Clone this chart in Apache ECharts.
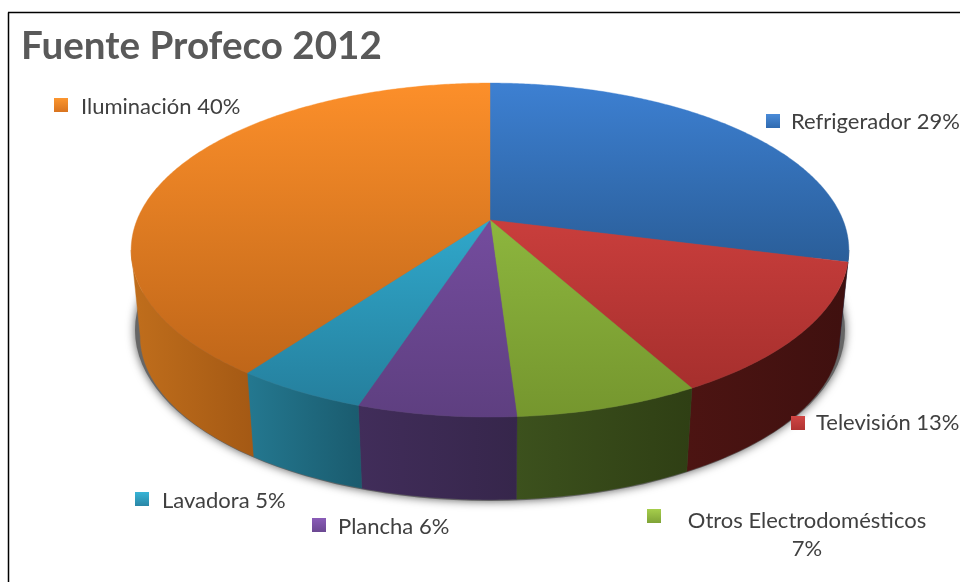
<!DOCTYPE html>
<html><head><meta charset="utf-8">
<style>html,body{margin:0;padding:0;background:#fff}#c{width:960px;height:582px}</style>
<script src="https://cdn.jsdelivr.net/npm/echarts@6/dist/echarts.min.js"></script>
</head><body><div id="c"></div>
<script>
const titleText = 'Fuente Profeco 2012';
const categories = ['Refrigerador', 'Televisión', 'Otros Electrodomésticos', 'Plancha', 'Lavadora', 'Iluminación'];
const shares = [29, 13, 7, 6, 5, 40];

// styles and layout, per category
const topColors = [['#3D80D2','#2A5E99'],['#C93E3C','#A62F2D'],['#8DB63E','#75962E'],['#744C9E','#5E3F80'],['#30A8CB','#257F9D'],['#FC8F2A','#BF6619']];
const wallColors = [['#24507F','#1E4268'],['#4C1412','#3F100F'],['#3C511D','#2F3F14'],['#412D5A','#36264B'],['#247890','#1A5B6E'],['#C06E1C','#A45914']];
const swatchColors = [['#4A8BD8','#2F6AB0'],['#D04644','#B03432'],['#A6CE4C','#7FA337'],['#8A5CB8','#6B4892'],['#38B4D6','#2A86A6'],['#FC962F','#D9741F']];
const legendPos = [
  {sx:766,sy:114,tx:791,ty:122},
  {sx:791,sy:416,tx:816,ty:423},
  {sx:647,sy:509,tx:807,ty:535,center:true},
  {sx:312,sy:518,tx:338,ty:527},
  {sx:135,sy:492,tx:162,ty:501},
  {sx:54,sy:98,tx:81,ty:107}
];

// tilted-disc projection: perspective k, top rim and lower rim
const K = 0.18;
const rimTop = {cx:490, cy:220, a:353, b:161.6};
const rimLow = {cx:490, cy:307, a:344, b:158};
const project = (rim, t) => {
  const X = Math.sin(t), Y = -Math.cos(t), d = 1 - K * Y;
  return [rim.cx + rim.a * X / d, rim.cy + rim.b * Y / d];
};
const silhouette = Math.acos(-K); // angle at which the rim turns behind
const total = shares.reduce((s, v) => s + v, 0);
const toAngle = c => echarts.number.linearMap(c, [0, total], [0, Math.PI * 2]);
const cumulative = shares.map((_, i) => shares.slice(0, i).reduce((s, v) => s + v, 0));
const arc = (rim, from, to) => {
  const n = Math.max(2, Math.ceil(Math.abs(to - from) / 0.01)), pts = [];
  for (let i = 0; i <= n; i++) pts.push(project(rim, from + (to - from) * i / n));
  return pts;
};
const grad = (x, y, x2, y2, c) => ({type:'linear', x, y, x2, y2, global:true,
  colorStops:[{offset:0,color:c[0]},{offset:1,color:c[1]}]});

function renderItem(params, api) {
  const i = params.dataIndex, children = [];
  const t0 = toAngle(api.value(1)), t1 = toAngle(api.value(1) + api.value(0));
  const topPts = [[rimTop.cx, rimTop.cy]].concat(arc(rimTop, t0, t1));
  const ys = topPts.map(p => p[1]);
  const topFill = grad(0, Math.min(...ys), 0, Math.max(...ys), topColors[i]);
  children.push({type:'polygon', z2:3, shape:{points:topPts}, style:{fill:topFill, stroke:topFill, lineWidth:0.4}});
  const a = Math.max(t0, silhouette), b = Math.min(t1, Math.PI * 2 - silhouette);
  if (b > a) {
    const u = arc(rimTop, a, b), l = arc(rimLow, b, a);
    const pts = u.concat(l), xs = pts.map(p => p[0]);
    const wf = grad(Math.min(...xs), 0, Math.max(...xs), 0, wallColors[i]);
    children.push({type:'polygon', z2:2, shape:{points:pts}, style:{fill:wf, stroke:wf, lineWidth:0.4}});
  }
  const lp = legendPos[i];
  children.push({type:'rect', z2:4, shape:{x:lp.sx, y:lp.sy, width:14, height:14},
    style:{fill:grad(0, lp.sy, 0, lp.sy + 14, swatchColors[i])}});
  children.push({type:'text', z2:4, style:{
    x:lp.tx, y:lp.ty, text: categories[i] + (lp.center ? '\n' : ' ') + api.value(0) + '%',
    fill:'#404040', font:'22px Lato', lineHeight:28,
    align: lp.center ? 'center' : 'left', verticalAlign:'middle'}});
  return {type:'group', children};
}

const chart = echarts.init(document.getElementById('c'), null, {renderer:'canvas'});
chart.setOption({
  animation:false,
  backgroundColor:'#fff',
  title:{text:titleText, left:16, top:22, textStyle:{fontFamily:'Lato', fontWeight:'bold', fontSize:38.6, color:'#595959'}},
  graphic:[
    {type:'line', z:-2, shape:{x1:8.5,y1:12.5,x2:8.5,y2:582}, style:{stroke:'#000',lineWidth:1.5}},
    {type:'line', z:-2, shape:{x1:8,y1:12.5,x2:960,y2:12.5}, style:{stroke:'#000',lineWidth:1.5}},
    {type:'ellipse', z:-1, shape:{cx:490,cy:330,rx:355,ry:171},
      style:{fill:'#666', shadowBlur:10, shadowColor:'rgba(0,0,0,0.65)'}}
  ],
  series:[{
    type:'custom', coordinateSystem:'none', z:3, clip:false,
    renderItem,
    data: shares.map((v, i) => [v, cumulative[i]])
  }]
});
</script></body></html>
